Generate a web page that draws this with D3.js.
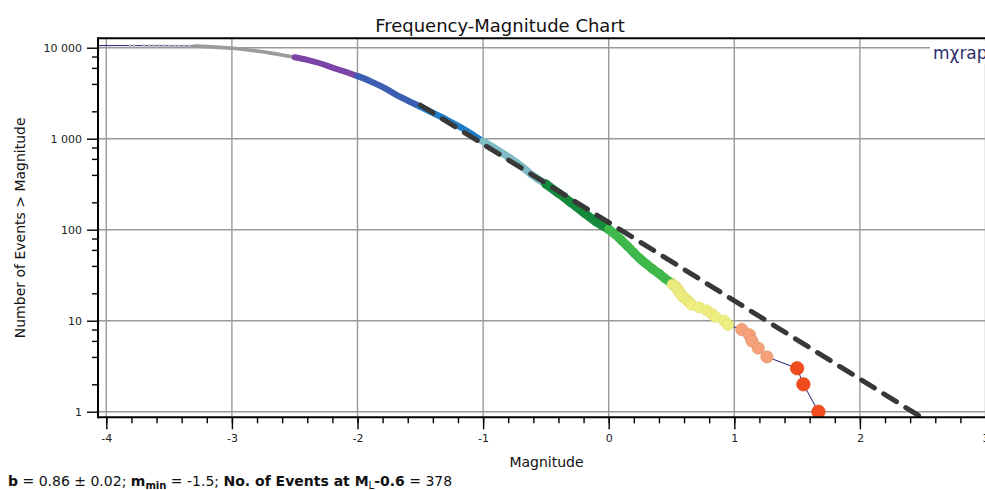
<!DOCTYPE html>
<html>
<head>
<meta charset="utf-8">
<script src="https://cdn.jsdelivr.net/npm/d3@7"></script>
<style>
  body { margin: 0; background: #fff; }
  svg { display: block; font-family: "DejaVu Sans", Verdana, sans-serif; }
</style>
</head>
<body>
<div id="chart"></div>
<script>
// number of events >= magnitude
// very top of the curve: a few sparse small events
const headMag = [-4.30, -3.81, -3.78, -3.70, -3.66, -3.62, -3.58, -3.54, -3.50, -3.46, -3.42, -3.38, -3.34];
const headN = [10560, 10540, 10540, 10530, 10525, 10520, 10515, 10510, 10500, 10490, 10480, 10470, 10460];
// dense part of the curve
const curveMag = [-3.30, -3.20, -3.10, -3.00, -2.90, -2.80, -2.70, -2.60, -2.50, -2.40, -2.30, -2.20, -2.10,
  -2.00, -1.90, -1.80, -1.70, -1.60, -1.50, -1.40, -1.30, -1.20, -1.10, -1.00, -0.90, -0.80, -0.70, -0.60,
  -0.50, -0.40, -0.30, -0.20, -0.10, 0.00, 0.05, 0.10, 0.15, 0.20, 0.25, 0.30, 0.35, 0.40, 0.45, 0.50];
const curveN = [10450, 10280, 10080, 9850, 9560, 9200, 8780, 8330, 7850, 7350, 6750, 6050, 5450,
  4880, 4300, 3700, 3080, 2620, 2250, 1920, 1640, 1390, 1150, 930, 770, 630, 505, 390,
  318, 252, 198, 155, 122, 101, 89, 77, 66, 56, 48, 42, 37, 33, 29, 26];
// largest events, one marker each
const tailMag = [0.51, 0.53, 0.54, 0.55, 0.56, 0.57, 0.58, 0.60, 0.62, 0.64, 0.66, 0.72, 0.78, 0.82, 0.85,
  0.92, 0.95, 1.06, 1.12, 1.14, 1.19, 1.26, 1.50, 1.55, 1.67];
const tailN = [25, 24, 23, 22, 21, 20, 19, 18, 17, 16, 15, 14, 13, 12, 11, 10, 9, 8, 7, 6, 5, 4, 3, 2, 1];

// Gutenberg-Richter fit: log10 N = a - b*M, from m_min
const fitA = 2.08, fitB = 0.86, fitMmin = -1.5, fitMmax = 2.6;

const xTicks = [-4, -3, -2, -1, 0, 1, 2, 3];
const yTicks = [1, 10, 100, 1000, 10000];

// magnitude colour bins
const binEdges = [-2.5, -2, -1.5, -1, -0.5, 0, 0.5, 1, 1.5];
const binColors = ["#9b9b9b", "#7a45a6", "#3d5fb3", "#1f7cc4", "#80bcc5", "#168a3c", "#3fb84b",
  "#efee80", "#f5a179", "#f04c1e"];
const binRadius = [2, 3, 3.2, 3.2, 3.8, 4.5, 4.6, 5.6, 6.2, 6.8];

//#region Layout
const width = 985, height = 490;
const plot = { left: 98, right: 995, top: 38.3, bottom: 417.3 };

const svg = d3.select("#chart").append("svg")
  .attr("width", width)
  .attr("height", height);

const x = d3.scaleLinear()
  .domain([-4 - 8.3 / 125.6, 3 + 9.5 / 125.6])
  .range([plot.left, plot.right]);
const y = d3.scaleLog()
  .domain([0.868, 12690])
  .range([plot.bottom, plot.top]);

const binOf = m => d3.bisectRight(binEdges, m);

svg.append("clipPath").attr("id", "clip")
  .append("rect")
  .attr("x", plot.left).attr("y", plot.top)
  .attr("width", plot.right - plot.left).attr("height", plot.bottom - plot.top);
//#endregion

//#region Grid
const grid = svg.append("g").attr("stroke", "#9a9a9a").attr("stroke-width", 1.4);
grid.selectAll("line.v").data(xTicks).join("line")
  .attr("x1", d => x(d)).attr("x2", d => x(d))
  .attr("y1", plot.top).attr("y2", plot.bottom);
grid.selectAll("line.h").data(yTicks).join("line")
  .attr("class", "h")
  .attr("x1", plot.left).attr("x2", plot.right)
  .attr("y1", d => y(d)).attr("y2", d => y(d));
//#endregion

//#region Data
const layer = svg.append("g").attr("clip-path", "url(#clip)");

const allPts = [];
headMag.forEach((m, i) => allPts.push({ m, n: headN[i] }));
curveMag.forEach((m, i) => allPts.push({ m, n: curveN[i] }));
tailMag.forEach((m, i) => allPts.push({ m, n: tailN[i] }));

const line = d3.line().x(d => x(d.m)).y(d => y(d.n));

// thin connecting line under the markers
layer.append("path")
  .datum(allPts)
  .attr("d", line)
  .attr("fill", "none")
  .attr("stroke", "#1b1f78")
  .attr("stroke-width", 1);

// head: small separate dots
layer.selectAll("circle.head")
  .data(headMag.map((m, i) => ({ m, n: headN[i] })))
  .join("circle")
  .attr("class", "head")
  .attr("cx", d => x(d.m)).attr("cy", d => y(d.n))
  .attr("r", 1.4)
  .attr("fill", "#b8b8b8");

// dense curve, drawn as a thick band per colour bin
const curvePts = curveMag.map((m, i) => ({ m, n: curveN[i] }));
const smooth = d3.line().x(d => x(d.m)).y(d => y(d.n)).curve(d3.curveMonotoneX);
binColors.forEach((c, b) => {
  const lo = b === 0 ? -Infinity : binEdges[b - 1];
  const hi = b === binEdges.length ? Infinity : binEdges[b];
  const pts = curvePts.filter(d => d.m >= lo - 1e-9 && d.m <= hi + 1e-9);
  if (pts.length < 2) return;
  const w = b === 0 ? 3.6 : binRadius[b] * 2;
  layer.append("path")
    .datum(pts)
    .attr("d", smooth)
    .attr("fill", "none")
    .attr("stroke", c)
    .attr("stroke-width", w)
    .attr("stroke-linecap", "round")
    .attr("stroke-linejoin", "round");
  if (b >= 5) {
    layer.selectAll(null).data(pts).join("circle")
      .attr("cx", d => x(d.m)).attr("cy", d => y(d.n))
      .attr("r", binRadius[b])
      .attr("fill", c);
  }
});

// tail markers
layer.selectAll("circle.tail")
  .data(tailMag.map((m, i) => ({ m, n: tailN[i] })))
  .join("circle")
  .attr("class", "tail")
  .attr("cx", d => x(d.m)).attr("cy", d => y(d.n))
  .attr("r", d => binRadius[binOf(d.m)])
  .attr("fill", d => binColors[binOf(d.m)])
  .attr("stroke", d => d3.color(binColors[binOf(d.m)]).darker(0.25))
  .attr("stroke-width", 0.6);

// fitted line
layer.append("path")
  .datum([fitMmin, fitMmax].map(m => ({ m, n: Math.pow(10, fitA - fitB * m) })))
  .attr("d", line)
  .attr("fill", "none")
  .attr("stroke", "#383838")
  .attr("stroke-width", 5)
  .attr("stroke-dasharray", "15,11")
  .attr("stroke-linecap", "round");
//#endregion

//#region Axes
const fmt = d3.formatLocale({ decimal: ".", thousands: " ", grouping: [3], currency: ["", ""] }).format(",");

const minorY = [];
yTicks.forEach(t => [2, 4, 6, 8].forEach(k => { if (t * k < 12690) minorY.push(t * k); }));

const yAxis = svg.append("g").attr("transform", `translate(${plot.left},0)`);
yAxis.append("g")
  .call(d3.axisLeft(y).tickValues(minorY).tickSize(6).tickFormat(""));
yAxis.append("g")
  .call(d3.axisLeft(y).tickValues(yTicks).tickSize(11).tickPadding(5).tickFormat(fmt));

const xAxis = svg.append("g").attr("transform", `translate(0,${plot.bottom})`);
xAxis.append("g")
  .call(d3.axisBottom(x).tickValues(d3.range(-20, 16).map(i => i / 5)).tickSize(6).tickFormat(""));
xAxis.append("g")
  .call(d3.axisBottom(x).tickValues(xTicks).tickSize(12).tickPadding(5).tickFormat(d => String(d)));

svg.selectAll(".domain").remove();
svg.selectAll(".tick line").attr("stroke", "#000").attr("stroke-width", 1.4);
svg.selectAll(".tick text").attr("font-family", "DejaVu Sans").attr("font-size", 11).attr("fill", "#222");

// frame
const frame = svg.append("g").attr("stroke", "#000").attr("stroke-width", 2).attr("fill", "none");
frame.append("line").attr("x1", plot.left).attr("x2", plot.right).attr("y1", plot.top).attr("y2", plot.top);
frame.append("line").attr("x1", plot.left).attr("x2", plot.right).attr("y1", plot.bottom).attr("y2", plot.bottom);
frame.append("line").attr("x1", plot.left).attr("x2", plot.left).attr("y1", plot.top - 1).attr("y2", plot.bottom + 1);
//#endregion

//#region Titles
svg.append("text")
  .text("Frequency-Magnitude Chart")
  .attr("x", 500).attr("y", 32)
  .attr("text-anchor", "middle")
  .attr("font-size", 18)
  .attr("fill", "#111");

svg.append("text")
  .text("Magnitude")
  .attr("x", (plot.left + plot.right) / 2).attr("y", 467)
  .attr("text-anchor", "middle")
  .attr("font-size", 14)
  .attr("fill", "#111");

svg.append("text")
  .text("Number of Events > Magnitude")
  .attr("transform", `translate(25,${(plot.top + plot.bottom) / 2}) rotate(-90)`)
  .attr("text-anchor", "middle")
  .attr("font-size", 14)
  .attr("fill", "#111");

// logo
svg.append("rect").attr("x", 930).attr("y", 41).attr("width", 60).attr("height", 23).attr("fill", "#fff");
svg.append("text")
  .text("mχrap")
  .attr("x", 933).attr("y", 59)
  .attr("font-size", 17)
  .attr("fill", "#2e2e6e");

// footer stats
const foot = svg.append("text").attr("x", 8).attr("y", 486).attr("font-size", 14).attr("fill", "#111");
foot.append("tspan").text("b").attr("font-weight", "bold");
foot.append("tspan").text(` = ${fitB.toFixed(2)} ± 0.02; `);
foot.append("tspan").text("m").attr("font-weight", "bold");
foot.append("tspan").text("min").attr("font-weight", "bold").attr("font-size", 10).attr("dy", 3);
foot.append("tspan").text(` = ${fitMmin}; `).attr("dy", -3);
foot.append("tspan").text("No. of Events at M").attr("font-weight", "bold");
foot.append("tspan").text("L").attr("font-size", 10).attr("dy", 3);
foot.append("tspan").text("-0.6").attr("font-weight", "bold").attr("dy", -3);
foot.append("tspan").text(" = 378");
//#endregion
</script>
</body>
</html>
